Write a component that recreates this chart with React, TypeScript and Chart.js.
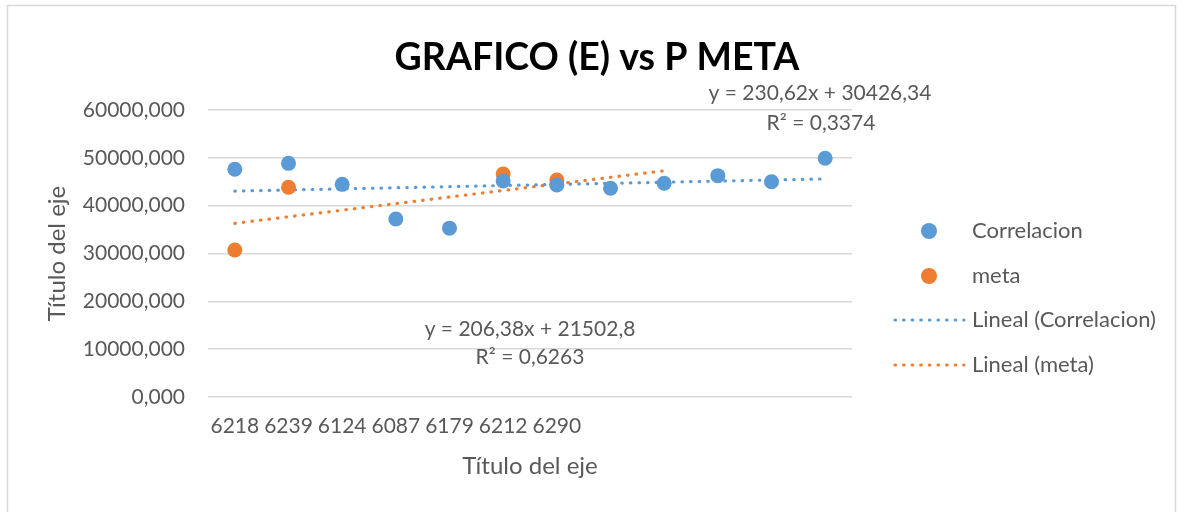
import React, { useEffect, useRef } from "react";
import { Chart, registerables } from "chart.js";

Chart.register(...registerables);

// ---- data ----
const categories = ["6218", "6239", "6124", "6087", "6179", "6212", "6290", "", "", "", "", ""];
const correlacion = [47600, 48850, 44460, 37200, 35300, 45150, 44320, 43630, 44680, 46270, 45010, 49900];
const meta = [30730, 43840, null, null, null, 46620, 45370, null, null, null, null, null];
const trendCorrelacion = [43050, null, null, null, null, null, null, null, null, null, null, 45600];
const trendMeta = [36300, null, null, null, null, null, null, null, 47300, null, null, null];
const yTicks = [0, 10000, 20000, 30000, 40000, 50000, 60000];

const chartTitle = "GRAFICO (E) vs P META";
const axisTitle = "Título del eje";
const eqUpper = ["y = 230,62x + 30426,34", "R² = 0,3374"];
const eqLower = ["y = 206,38x + 21502,8", "R² = 0,6263"];
const seriesNames = ["Correlacion", "meta", "Lineal (Correlacion)", "Lineal (meta)"];

const BLUE = "#5B9BD5";
const ORANGE = "#ED7D31";
const TEXT = "#595959";
const GRID = "#d9d9d9";
const FONT = "Lato";

const fmt = (v: number) => v.toFixed(3).replace(".", ",");

const decor = {
  id: "decor",
  beforeDraw(chart: any) {
    const ctx = chart.ctx;
    ctx.save();
    ctx.fillStyle = "#ffffff";
    ctx.fillRect(0, 0, chart.width, chart.height);
    ctx.strokeStyle = GRID;
    ctx.lineWidth = 1.5;
    ctx.strokeRect(7.5, 5.5, 1168, 540);
    ctx.restore();
  },
  afterDraw(chart: any) {
    const ctx = chart.ctx;
    ctx.save();
    // title
    ctx.fillStyle = "#000000";
    ctx.font = `bold 37.5px ${FONT}`;
    ctx.textAlign = "center";
    ctx.textBaseline = "alphabetic";
    ctx.fillText(chartTitle, 597, 70);

    // equations
    ctx.fillStyle = TEXT;
    ctx.font = `21px ${FONT}`;
    ctx.textBaseline = "middle";
    ctx.fillText(eqUpper[0], 820, 93);
    ctx.fillText(eqUpper[1], 821, 123);
    ctx.fillText(eqLower[0], 530, 329);
    ctx.fillText(eqLower[1], 530, 357);

    // legend
    const rows = [231, 276, 320, 365];
    const colors = [BLUE, ORANGE, BLUE, ORANGE];
    ctx.textAlign = "left";
    ctx.font = `22px ${FONT}`;
    rows.forEach((y, i) => {
      ctx.fillStyle = colors[i];
      ctx.strokeStyle = colors[i];
      if (i < 2) {
        ctx.beginPath();
        ctx.arc(929, y, 8, 0, Math.PI * 2);
        ctx.fill();
      } else {
        ctx.lineWidth = 3.2;
        ctx.lineCap = "round";
        ctx.setLineDash([0.5, 8.1]);
        ctx.beginPath();
        ctx.moveTo(895, y);
        ctx.lineTo(964, y);
        ctx.stroke();
        ctx.setLineDash([]);
      }
      ctx.fillStyle = TEXT;
      ctx.fillText(seriesNames[i], 972, y);
    });
    ctx.restore();
  },
};

export default function App() {
  const ref = useRef<HTMLCanvasElement>(null);
  useEffect(() => {
    if (!ref.current) return;
    const tickFont = { family: FONT, size: 21 };
    const titleFont = { family: FONT, size: 24 };
    const chart = new Chart(ref.current, {
      type: "line",
      data: {
        labels: categories,
        datasets: [
          {
            label: seriesNames[0],
            data: correlacion,
            showLine: false,
            pointRadius: 7.5,
            pointBackgroundColor: BLUE,
            pointBorderColor: BLUE,
            pointBorderWidth: 0,
            borderColor: BLUE,
            backgroundColor: BLUE,
          },
          {
            label: seriesNames[1],
            data: meta,
            showLine: false,
            pointRadius: 7.5,
            pointBackgroundColor: ORANGE,
            pointBorderColor: ORANGE,
            pointBorderWidth: 0,
            borderColor: ORANGE,
            backgroundColor: ORANGE,
          },
          {
            label: seriesNames[2],
            data: trendCorrelacion,
            spanGaps: true,
            pointRadius: 0,
            borderColor: BLUE,
            borderWidth: 3.2,
            borderDash: [0.5, 8.1],
            borderCapStyle: "round",
          },
          {
            label: seriesNames[3],
            data: trendMeta,
            spanGaps: true,
            pointRadius: 0,
            borderColor: ORANGE,
            borderWidth: 3.2,
            borderDash: [0.5, 8.1],
            borderCapStyle: "round",
          },
        ],
      } as any,
      options: {
        animation: false,
        responsive: false,
        maintainAspectRatio: false,
        layout: { padding: { left: 0, top: 110, right: 336, bottom: 0 } },
        plugins: {
          legend: { display: false },
          title: { display: false },
          tooltip: { enabled: false },
        },
        scales: {
          x: {
            type: "category",
            offset: true,
            grid: { display: false, drawTicks: false },
            border: { display: false },
            ticks: { color: TEXT, font: tickFont, padding: 17, maxRotation: 0, autoSkip: false },
            title: {
              display: true,
              text: axisTitle,
              color: TEXT,
              font: titleFont,
              padding: { top: 0, bottom: 31.6 },
            },
            afterFit: (s: any) => {
              s.height = 115;
            },
          },
          y: {
            min: 0,
            max: 60000,
            afterBuildTicks: (s: any) => {
              s.ticks = yTicks.map((v) => ({ value: v }));
            },
            grid: { color: GRID, lineWidth: 1.5, drawTicks: false },
            border: { display: false },
            ticks: {
              color: TEXT,
              font: tickFont,
              padding: 23,
              callback: (v: any) => fmt(Number(v)),
            },
            title: {
              display: true,
              text: axisTitle,
              color: TEXT,
              font: titleFont,
              padding: { top: 42.6, bottom: 0 },
            },
            afterFit: (s: any) => {
              s.width = 208;
            },
          },
        },
      } as any,
      plugins: [decor],
    });
    return () => chart.destroy();
  }, []);
  return (
    <div style={{ position: "absolute", left: 0, top: 0, width: 1188, height: 512 }}>
      <canvas ref={ref} width={1188} height={512} style={{ width: 1188, height: 512, display: "block" }} />
    </div>
  );
}
